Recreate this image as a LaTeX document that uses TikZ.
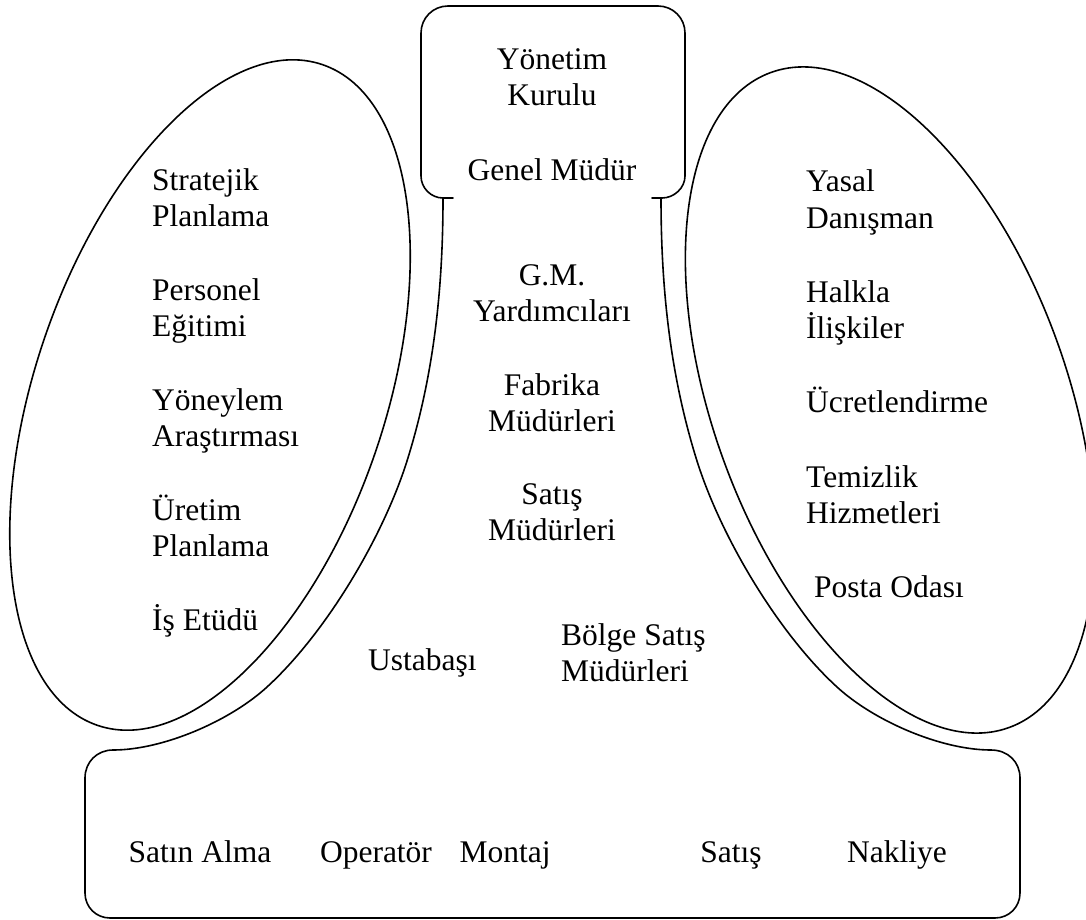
\documentclass[tikz,border=0pt]{standalone}
\usepackage{fontspec}
\setmainfont{Liberation Serif}
\begin{document}
\begin{tikzpicture}[x=1pt,y=-1pt,
  outline/.style={line width=1.6pt, line join=round, line cap=round},
  lbl/.style={inner sep=0pt, font=\fontsize{31.5}{36}\selectfont},
  lft/.style={lbl, anchor=base west},
  ctr/.style={lbl, anchor=base}]
\useasboundingbox (0,0) rectangle (1086,920);

% strategic apex: rounded box, open at the bottom
\draw[outline] (453,198) -- (443,198)
  .. controls (431,198) and (421,188) .. (421,176) -- (421,33)
  .. controls (421,18) and (433,6) .. (448,6) -- (658,6)
  .. controls (673,6) and (685,18) .. (685,33) -- (685,176)
  .. controls (685,188) and (674,198) .. (662,198) -- (652,198);

% technostructure and support staff
\draw[outline, rotate around={71.2:(210,395)}] (210,395) ellipse [x radius=349, y radius=175];
\draw[outline, rotate around={-70:(890,400)}] (890,400) ellipse [x radius=348.5, y radius=177];

% middle line: two arms joining apex and operating core
\draw[outline] (443,198) .. controls (443,288) and (434,375) .. (407,461)
  .. controls (383,537) and (326,633) .. (267,687)
  .. controls (230,721) and (163,750) .. (113,750);
\draw[outline] (661,198) .. controls (661,288) and (670,375) .. (697,461)
  .. controls (721,537) and (778,633) .. (837,687)
  .. controls (874,721) and (941,750) .. (991,750);

% operating core
\draw[outline] (113,750) .. controls (97,750) and (85,762) .. (85,778) -- (85,893)
  .. controls (85,907) and (96,918) .. (110,918) -- (995,918)
  .. controls (1009,918) and (1020,907) .. (1020,893) -- (1020,778)
  .. controls (1020,762) and (1008,750) .. (991,750);

% apex labels
\node[ctr] (yk1) at (552,70) {Yönetim};
\node[ctr] (yk2) at (552,106) {Kurulu};
\node[ctr] (gm) at (552,181) {Genel Müdür};

% technostructure labels
\node[lft] (t1) at (152,190) {Stratejik};
\node[lft] (t2) at (152,226) {Planlama};
\node[lft] (t3) at (152,300) {Personel};
\node[lft] (t4) at (152,336) {Eğitimi};
\node[lft] (t5) at (152,410) {Yöneylem};
\node[lft] (t6) at (152,446) {Araştırması};
\node[lft] (t7) at (152,520) {Üretim};
\node[lft] (t8) at (152,556) {Planlama};
\node[lft] (t9) at (152,630) {İş Etüdü};

% support staff labels
\node[lft] (d1) at (806,192) {Yasal};
\node[lft] (d2) at (806,228) {Danışman};
\node[lft] (d3) at (806,302) {Halkla};
\node[lft] (d4) at (806,338) {İlişkiler};
\node[lft] (d5) at (806,412) {Ücretlendirme};
\node[lft] (d6) at (806,487) {Temizlik};
\node[lft] (d7) at (806,523) {Hizmetleri};
\node[lft] (d8) at (814,597) {Posta Odası};

% middle line labels
\node[ctr] (m1) at (552,285) {G.M.};
\node[ctr] (m2) at (552,321) {Yardımcıları};
\node[ctr] (m3) at (552,395) {Fabrika};
\node[ctr] (m4) at (552,431) {Müdürleri};
\node[ctr] (m5) at (552,504) {Satış};
\node[ctr] (m6) at (552,540) {Müdürleri};
\node[lft] (m7) at (368,670) {Ustabaşı};
\node[lft] (m8) at (561,645) {Bölge Satış};
\node[lft] (m9) at (561,681) {Müdürleri};

% operating core labels
\node[ctr] (o1) at (200,862) {Satın Alma};
\node[ctr] (o2) at (376,862) {Operatör};
\node[ctr] (o3) at (505,862) {Montaj};
\node[ctr] (o4) at (731,862) {Satış};
\node[ctr] (o5) at (897,862) {Nakliye};
\end{tikzpicture}
\end{document}
